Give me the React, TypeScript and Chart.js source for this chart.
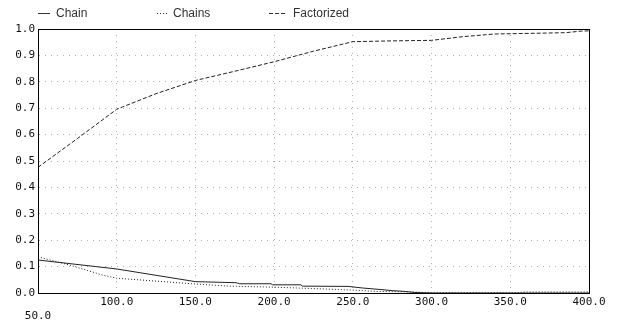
import React, { useEffect, useRef } from "react";
import { Chart, registerables } from "chart.js";

Chart.register(...registerables);

const seriesNames = ["Chain", "Chains", "Factorized"];

const chainX = [50, 100, 150, 176, 178, 198, 199, 217, 218, 247, 256, 266, 275, 283, 289, 300, 400];
const chainY = [0.125, 0.091, 0.043, 0.039, 0.035, 0.035, 0.031, 0.031, 0.026, 0.025, 0.019, 0.014, 0.009, 0.006, 0.002, 0.0, 0.0];

const chainsX = [50, 70, 91, 100, 150, 172, 200, 229, 250, 265, 288, 300, 355, 358, 400];
const chainsY = [0.137, 0.106, 0.068, 0.056, 0.034, 0.026, 0.022, 0.016, 0.011, 0.006, 0.004, 0.001, 0.001, 0.004, 0.004];

const factX = [50, 75, 100, 125, 150, 175, 200, 225, 250, 275, 300, 320, 340, 385, 395, 400];
const factY = [0.476, 0.585, 0.696, 0.755, 0.805, 0.84, 0.876, 0.916, 0.952, 0.955, 0.957, 0.971, 0.981, 0.986, 0.992, 0.993];

const xTicks = [50, 100, 150, 200, 250, 300, 350, 400];
const yTicks = [0, 0.1, 0.2, 0.3, 0.4, 0.5, 0.6, 0.7, 0.8, 0.9, 1.0];

const dashes: number[][] = [[], [1, 2], [4, 2]];

function pts(xs: number[], ys: number[]) {
  return xs.map((x, i) => ({ x, y: ys[i] }));
}

const boxPlugin = {
  id: "boxPlugin",
  afterDraw(chart: any) {
    const { ctx, chartArea } = chart;
    ctx.save();
    ctx.strokeStyle = "#000";
    ctx.lineWidth = 1;
    const l = Math.round(chartArea.left) + 0.5;
    const t = Math.round(chartArea.top) + 0.5;
    const r = Math.round(chartArea.right) + 0.5;
    const b = Math.round(chartArea.bottom) + 0.5;
    ctx.strokeRect(l, t, r - l, b - t);
    ctx.restore();
  },
};

const legendPlugin = {
  id: "legendPlugin",
  afterDraw(chart: any) {
    const { ctx } = chart;
    const xs = [38, 157, 269];
    const lens = [12, 10, 18];
    const y = 13.5;
    ctx.save();
    chart.data.datasets.forEach((ds: any, i: number) => {
      ctx.strokeStyle = "#333";
      ctx.lineWidth = 1;
      ctx.setLineDash(dashes[i]);
      ctx.beginPath();
      ctx.moveTo(xs[i], y);
      ctx.lineTo(xs[i] + lens[i], y);
      ctx.stroke();
      ctx.setLineDash([]);
      ctx.fillStyle = "#333";
      ctx.font = '12px "Liberation Sans", Arial, sans-serif';
      ctx.textBaseline = "middle";
      ctx.textAlign = "left";
      ctx.fillText(ds.label, xs[i] + lens[i] + 6, y);
    });
    ctx.restore();
  },
};

export default function App() {
  const ref = useRef<HTMLCanvasElement | null>(null);

  useEffect(() => {
    document.body.style.margin = "0";
    if (!ref.current) return;
    const tickFont = { family: '"DejaVu Sans Mono", monospace', size: 11 };
    const chart = new Chart(ref.current, {
      type: "line",
      data: {
        datasets: [
          { label: seriesNames[0], data: pts(chainX, chainY) },
          { label: seriesNames[1], data: pts(chainsX, chainsY) },
          { label: seriesNames[2], data: pts(factX, factY) },
        ].map((d, i) => ({
          ...d,
          borderColor: "#222",
          backgroundColor: "#222",
          borderWidth: 1,
          borderDash: dashes[i],
          pointRadius: 0,
          tension: 0,
          fill: false,
        })),
      },
      options: {
        animation: false,
        responsive: true,
        maintainAspectRatio: false,
        layout: { padding: { left: 0, right: 33, top: 29, bottom: 0 } },
        plugins: {
          legend: { display: false },
          tooltip: { enabled: false },
        },
        scales: {
          x: {
            type: "linear",
            min: 50,
            max: 400,
            afterBuildTicks: (s: any) => {
              s.ticks = xTicks.map((v) => ({ value: v }));
            },
            afterFit: (s: any) => {
              s.height = 31;
            },
            ticks: {
              font: tickFont,
              color: "#111",
              padding: 3,
              maxRotation: 0,
              autoSkip: false,
              callback: (v: any) => (Number(v) === 50 ? ["", "50.0"] : Number(v).toFixed(1)),
            },
            grid: { color: "#b0b0b0", lineWidth: 1, drawTicks: false },
            border: { display: true, color: "#000", width: 1, dash: [1, 5] },
          },
          y: {
            type: "linear",
            min: 0,
            max: 1,
            afterBuildTicks: (s: any) => {
              s.ticks = yTicks.map((v) => ({ value: v }));
            },
            afterFit: (s: any) => {
              s.width = 38;
            },
            ticks: {
              font: tickFont,
              color: "#111",
              padding: 3,
              autoSkip: false,
              callback: (v: any) => Number(v).toFixed(1),
            },
            grid: { color: "#b0b0b0", lineWidth: 1, drawTicks: false },
            border: { display: true, color: "#000", width: 1, dash: [1, 5] },
          },
        },
      } as any,
      plugins: [boxPlugin, legendPlugin],
    });
    return () => chart.destroy();
  }, []);

  return (
    <div style={{ width: 622, height: 324, position: "relative", background: "#fff" }}>
      <canvas ref={ref} />
    </div>
  );
}
